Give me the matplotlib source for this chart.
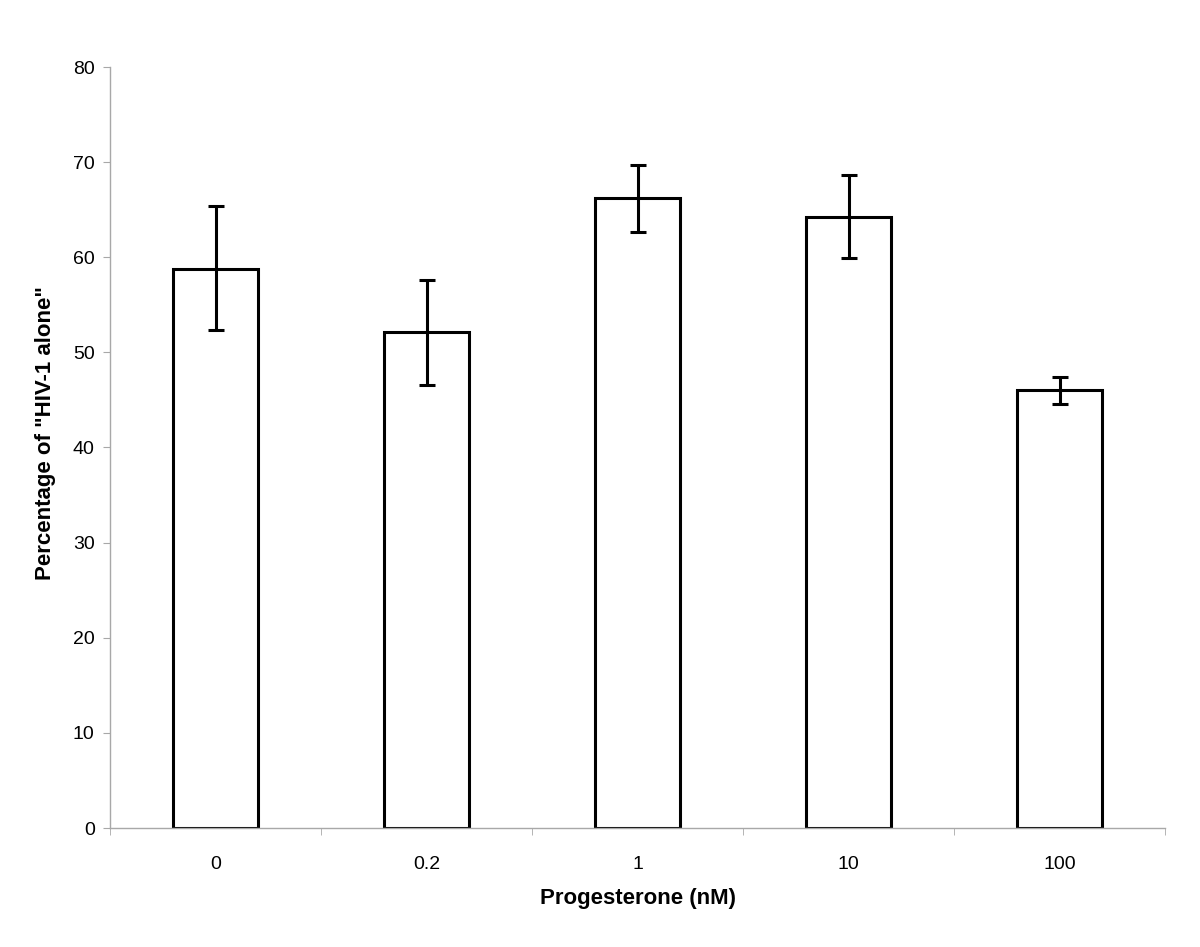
import matplotlib
matplotlib.use("Agg")
import matplotlib.pyplot as plt
import numpy as np

categories = ["0", "0.2", "1", "10", "100"]
values = [58.8, 52.1, 66.2, 64.2, 46.0]
err_upper = [65.4, 57.6, 69.7, 68.6, 47.4]
err_lower = [52.4, 46.6, 62.7, 59.9, 44.6]
y_ticks = [0, 10, 20, 30, 40, 50, 60, 70, 80]

plt.rcParams['font.family'] = ['Liberation Sans', 'DejaVu Sans']

fig = plt.figure(figsize=(12, 9.47), dpi=100)
ax = fig.add_axes([110/1200, 1 - 828/947, 1055/1200, (828-67)/947])

x = np.arange(len(categories))
vals = np.array(values)
yerr = np.array([vals - np.array(err_lower), np.array(err_upper) - vals])

ax.bar(x, vals, width=0.403, color="white", edgecolor="black", linewidth=2.2, zorder=2)
ax.errorbar(x, vals, yerr=yerr, fmt="none", ecolor="black", elinewidth=2.2,
            capsize=5.5, capthick=2.2, zorder=3)

ax.set_xlim(-0.5, len(categories) - 0.5)
ax.set_ylim(0, 80)
ax.set_yticks(y_ticks)
ax.set_xticks(x)
ax.set_xticklabels(categories)
ax.set_xticks(np.arange(-0.5, len(categories)), minor=True)

for s in ["top", "right"]:
    ax.spines[s].set_visible(False)
for s in ["left", "bottom"]:
    ax.spines[s].set_color("#a8a8a8")
    ax.spines[s].set_linewidth(1.0)

ax.tick_params(axis="y", which="major", direction="out", length=5, color="#a8a8a8",
               labelsize=14, pad=6)
ax.tick_params(axis="x", which="major", length=0, labelsize=14, pad=20)
ax.tick_params(axis="x", which="minor", direction="out", length=5, color="#a8a8a8")

ax.set_xlabel("Progesterone (nM)", fontsize=16, fontweight="bold")
ax.set_ylabel('Percentage of "HIV-1 alone"', fontsize=16, fontweight="bold")
ax.xaxis.set_label_coords(0.5, -(898 - 828) / 761, transform=ax.transAxes)
ax.xaxis.label.set_va("center")
ax.yaxis.set_label_coords((46 - 110) / 1055, (828 - 433) / 761, transform=ax.transAxes)
ax.yaxis.label.set_va("center")

fig.savefig("out.png", dpi=100)
